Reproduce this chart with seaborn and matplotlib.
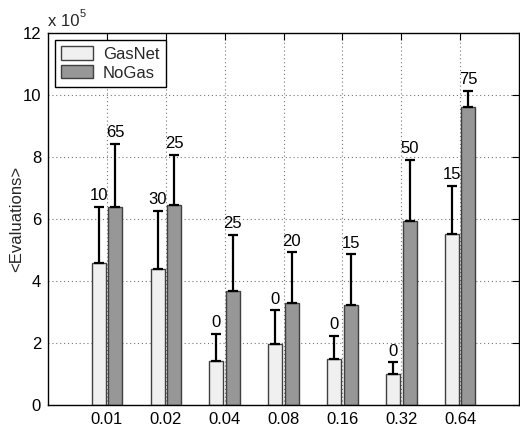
import matplotlib
matplotlib.use("Agg")
import matplotlib.pyplot as plt
import seaborn as sns
import pandas as pd
import numpy as np

# ---- data (values in units of 1e5 evaluations) ----
categories = ["0.01", "0.02", "0.04", "0.08", "0.16", "0.32", "0.64"]
gasnet_mean = [4.57, 4.39, 1.42, 1.96, 1.50, 1.01, 5.52]
gasnet_err_top = [6.39, 6.27, 2.30, 3.06, 2.24, 1.38, 7.08]
nogas_mean = [6.39, 6.44, 3.69, 3.30, 3.24, 5.93, 9.62]
nogas_err_top = [8.43, 8.08, 5.50, 4.93, 4.86, 7.92, 10.14]
gasnet_labels = ["10", "30", "0", "0", "0", "0", "15"]
nogas_labels = ["65", "25", "25", "20", "15", "50", "75"]
series = ["GasNet", "NoGas"]
yticks = [0, 2, 4, 6, 8, 10, 12]

sns.set_theme(style="white")
plt.rcParams["font.family"] = ["Liberation Sans", "DejaVu Sans"]

df = pd.DataFrame({
    "eps": categories * 2,
    "series": [series[0]] * len(categories) + [series[1]] * len(categories),
    "value": gasnet_mean + nogas_mean,
})

FS = 12

fig = plt.figure(figsize=(5.2, 4.28), dpi=100)
ax = fig.add_axes([0.0923, 0.0537, 0.906, 0.869])

sns.barplot(data=df, x="eps", y="value", hue="series", order=categories,
            hue_order=series, palette=["#f0f0f0", "#979797"],
            width=0.56, gap=0.15, edgecolor="#404040", linewidth=1.0,
            errorbar=None, ax=ax, zorder=2)

# error bars (upper only) and labels
patches = ax.patches[:2 * len(categories)]
tops = [gasnet_err_top, nogas_err_top]
means = [gasnet_mean, nogas_mean]
labels = [gasnet_labels, nogas_labels]
for s in range(2):
    xs = []
    for i in range(len(categories)):
        p = patches[s * len(categories) + i]
        xs.append(p.get_x() + p.get_width() / 2)
    m = np.array(means[s])
    t = np.array(tops[s])
    ax.errorbar(xs, m, yerr=[np.zeros_like(m), t - m], fmt="none",
                ecolor="black", elinewidth=1.6, capsize=3.5, capthick=1.6,
                zorder=3)
    for x, top, lab in zip(xs, t, labels[s]):
        ax.annotate(lab, (x, top), xytext=(0, 2.5), textcoords="offset points",
                    ha="center", va="bottom", fontsize=FS, color="black")

ax.set_xlim(-1, len(categories))
ax.set_ylim(0, 12)
ax.set_yticks(yticks)
ax.set_yticklabels([str(v) for v in yticks])
ax.set_xlabel("")
ax.set_ylabel("<Evaluations>", fontsize=FS, labelpad=-1)

ax.grid(True, linestyle=(0, (1, 2.5)), color="#777777", linewidth=0.8)
ax.set_axisbelow(True)
ax.tick_params(axis="both", direction="in", length=5, width=0.8,
               top=True, right=True, labelsize=FS, colors="black", pad=5)
for sp in ax.spines.values():
    sp.set_visible(True)
    sp.set_color("black")
    sp.set_linewidth(1.0)

ax.text(0.0, 1.01, "x 10", transform=ax.transAxes, ha="left", va="bottom",
        fontsize=FS)
ax.text(0.068, 1.037, "5", transform=ax.transAxes, ha="left", va="bottom",
        fontsize=8)

leg = ax.legend(loc="upper left", fontsize=FS, frameon=True, fancybox=False,
                edgecolor="black", framealpha=1, handlelength=1.9,
                handleheight=0.85, borderaxespad=0.4, borderpad=0.4,
                labelspacing=0.2, handletextpad=0.6)
leg.get_frame().set_linewidth(1.0)
leg.set_title(None)

fig.savefig("out.png", dpi=100)
